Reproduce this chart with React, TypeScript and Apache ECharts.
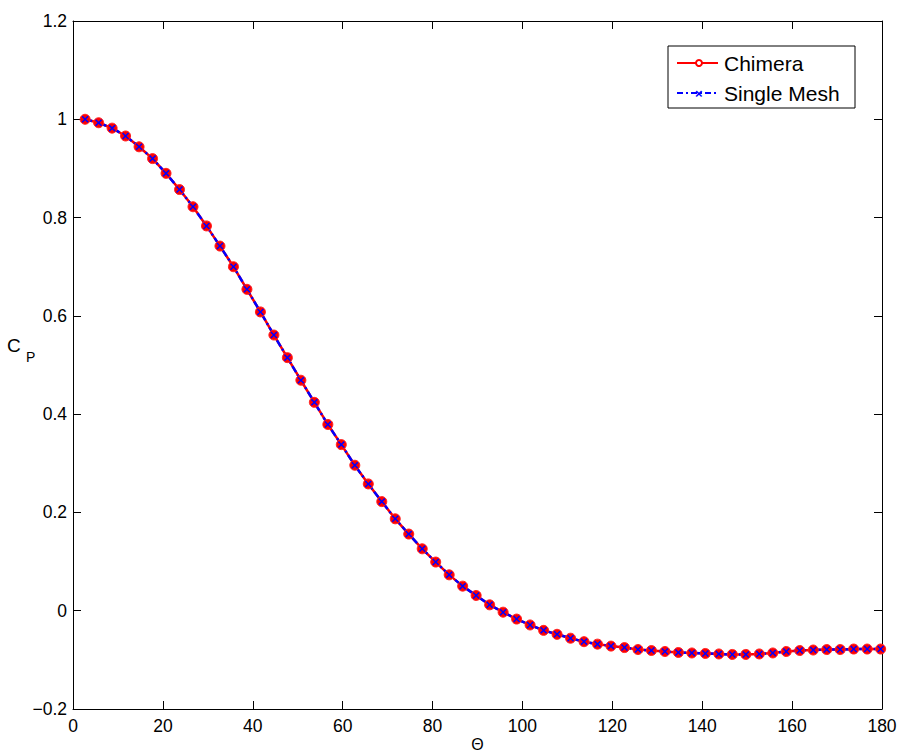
import React, { useEffect, useRef } from "react";
import * as echarts from "echarts";

const thetas: number[] = [
  2.7, 5.7, 8.7, 11.7, 14.7, 17.7, 20.7, 23.7, 26.7, 29.7,
  32.7, 35.7, 38.7, 41.7, 44.7, 47.7, 50.7, 53.7, 56.7, 59.7,
  62.7, 65.7, 68.7, 71.7, 74.7, 77.7, 80.7, 83.7, 86.7, 89.7,
  92.7, 95.7, 98.7, 101.7, 104.7, 107.7, 110.7, 113.7, 116.7, 119.7,
  122.7, 125.7, 128.7, 131.7, 134.7, 137.7, 140.7, 143.7, 146.7, 149.7,
  152.7, 155.7, 158.7, 161.7, 164.7, 167.7, 170.7, 173.7, 176.7, 179.7,
];

const chimeraCp: number[] = [
  1.0, 0.993, 0.982, 0.966, 0.944, 0.92, 0.89, 0.857, 0.822, 0.783,
  0.742, 0.7, 0.654, 0.608, 0.561, 0.515, 0.469, 0.424, 0.379, 0.338,
  0.296, 0.258, 0.222, 0.187, 0.156, 0.126, 0.099, 0.073, 0.05, 0.031,
  0.012, -0.003, -0.017, -0.029, -0.04, -0.048, -0.056, -0.063, -0.068, -0.072,
  -0.075, -0.079, -0.081, -0.083, -0.085, -0.086, -0.087, -0.088, -0.089, -0.089,
  -0.088, -0.086, -0.083, -0.081, -0.08, -0.079, -0.079, -0.078, -0.078, -0.078,
];

const singleMeshCp: number[] = [
  1.0, 0.993, 0.982, 0.966, 0.944, 0.92, 0.89, 0.857, 0.822, 0.783,
  0.742, 0.7, 0.654, 0.608, 0.561, 0.515, 0.469, 0.424, 0.379, 0.338,
  0.296, 0.258, 0.222, 0.187, 0.156, 0.126, 0.099, 0.073, 0.05, 0.031,
  0.012, -0.003, -0.017, -0.029, -0.04, -0.048, -0.056, -0.063, -0.068, -0.072,
  -0.075, -0.079, -0.081, -0.083, -0.085, -0.086, -0.087, -0.088, -0.089, -0.089,
  -0.088, -0.086, -0.083, -0.081, -0.08, -0.079, -0.079, -0.078, -0.078, -0.078,
];

const seriesNames: string[] = ["Chimera", "Single Mesh"];
const xAxisTitle = "Θ";
const yAxisTitleMain = "C";
const yAxisTitleSub = "P";

const FONT = "'Liberation Sans', Arial, Helvetica, sans-serif";
const X_MARK = "path://M1.5,0 L5,3.5 L8.5,0 L10,1.5 L6.5,5 L10,8.5 L8.5,10 L5,6.5 L1.5,10 L0,8.5 L3.5,5 L0,1.5 Z";

function fmtY(v: number): string {
  const r = Math.round(v * 10) / 10;
  if (r === 0) return "0";
  return String(r).replace("-", "\u2212");
}

export default function App() {
  const ref = useRef<HTMLDivElement>(null);
  useEffect(() => {
    document.body.style.margin = "0";
    if (!ref.current) return;
    const chart = echarts.init(ref.current, null, { renderer: "svg" });
    const axisLine = { show: true, onZero: false, lineStyle: { color: "#000", width: 1 } };
    const axisTick = { show: true, inside: true, length: 8, lineStyle: { color: "#000", width: 1 } };
    const labelStyle = { color: "#000", fontSize: 17.5, fontFamily: FONT };
    chart.setOption({
      animation: false,
      backgroundColor: "#fff",
      grid: { left: 73, right: 19, top: 21, bottom: 44, containLabel: false },
      xAxis: [
        {
          type: "value", min: 0, max: 180, interval: 20, position: "bottom",
          axisLine, axisTick, splitLine: { show: false },
          axisLabel: { ...labelStyle, margin: 8 },
        },
        {
          type: "value", min: 0, max: 180, interval: 20, position: "top",
          axisLine, axisTick, splitLine: { show: false }, axisLabel: { show: false },
        },
      ],
      yAxis: [
        {
          type: "value", min: -0.2, max: 1.2, interval: 0.2, position: "left",
          axisLine, axisTick, splitLine: { show: false },
          axisLabel: { ...labelStyle, margin: 6, formatter: fmtY },
        },
        {
          type: "value", min: -0.2, max: 1.2, interval: 0.2, position: "right",
          axisLine, axisTick, splitLine: { show: false }, axisLabel: { show: false },
        },
      ],
      series: [
        {
          name: seriesNames[0], type: "line",
          data: thetas.map((t, i) => [t, chimeraCp[i]]),
          lineStyle: { color: "#ff0000", width: 2.5 },
          itemStyle: { color: "#ff0000", borderColor: "#ff2020", borderWidth: 1 },
          symbol: "circle", symbolSize: 10, showSymbol: true,
        },
        {
          name: seriesNames[1], type: "line",
          data: thetas.map((t, i) => [t, singleMeshCp[i]]),
          lineStyle: { color: "#0000ff", width: 2.5, type: [7, 3, 2, 3] },
          itemStyle: { color: "#0000ff" },
          symbol: X_MARK, symbolSize: 7, showSymbol: true,
        },
      ],
      graphic: [
        { type: "rect", shape: { x: 668, y: 46, width: 187, height: 62 }, style: { fill: "#fff", stroke: "#000", lineWidth: 1 }, z: 100 },
        { type: "line", shape: { x1: 677, y1: 63, x2: 718, y2: 63 }, style: { stroke: "#ff0000", lineWidth: 2 }, z: 101 },
        { type: "circle", shape: { cx: 699, cy: 63, r: 3 }, style: { fill: "#fff", stroke: "#ff0000", lineWidth: 2 }, z: 102 },
        { type: "text", x: 724, y: 63, style: { text: seriesNames[0], fill: "#000", font: `21px ${FONT}`, verticalAlign: "middle" }, z: 102 },
        { type: "line", shape: { x1: 677, y1: 93, x2: 718, y2: 93 }, style: { stroke: "#0000ff", lineWidth: 2, lineDash: [6, 3, 2, 3] }, z: 101 },
        { type: "text", x: 695, y: 93, style: { text: "×", fill: "#0000ff", font: `bold 13px ${FONT}`, verticalAlign: "middle", align: "left" }, z: 102 },
        { type: "text", x: 724, y: 93, style: { text: seriesNames[1], fill: "#000", font: `21px ${FONT}`, verticalAlign: "middle" }, z: 102 },
        { type: "text", x: 477.5, y: 744, style: { text: xAxisTitle, fill: "#000", font: `16px ${FONT}`, align: "center", verticalAlign: "middle" } },
        { type: "text", x: 7, y: 345, style: { text: yAxisTitleMain, fill: "#000", font: `19px ${FONT}`, align: "left", verticalAlign: "middle" } },
        { type: "text", x: 26, y: 357, style: { text: yAxisTitleSub, fill: "#000", font: `14px ${FONT}`, align: "left", verticalAlign: "middle" } },
      ],
    });
    return () => chart.dispose();
  }, []);
  return <div ref={ref} style={{ width: 901, height: 753 }} />;
}
